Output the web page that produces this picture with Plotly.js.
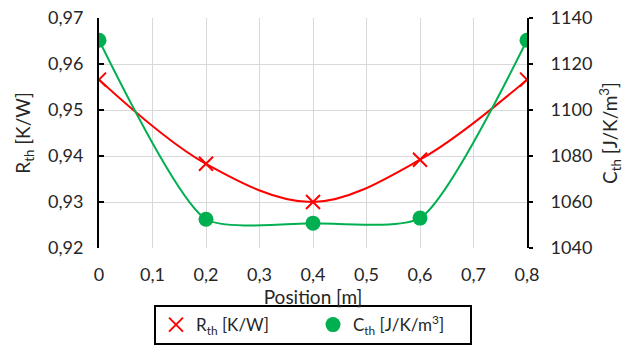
<!DOCTYPE html>
<html><head><meta charset="utf-8">
<script src="https://cdn.plot.ly/plotly-3.0.1.min.js"></script>
<style>body{margin:0;background:#fff}#c{width:629px;height:345px}</style>
</head><body><div id="c"></div>
<script>
const positions = [0, 0.2, 0.4, 0.6, 0.8];
const rth = [0.9566, 0.9383, 0.9300, 0.9392, 0.9566];
const cth = [1130.3, 1052.5, 1050.8, 1053.0, 1130.3];
const rName = 'R<sub>th</sub> [K/W]';
const cName = 'C<sub>th</sub> [J/K/m<sup>3</sup>]';

const font = {family: 'Lato, "Open Sans", sans-serif', size: 18, color: '#262626'};
const titleFont = {family: 'Lato, "Open Sans", sans-serif', size: 19, color: '#262626'};
const legendFont = {family: 'Lato, "Open Sans", sans-serif', size: 17, color: '#262626'};
const traces = [
  {x: positions, y: rth, type: 'scatter', mode: 'lines', showlegend: false, hoverinfo: 'skip',
   line: {color: '#ff0000', width: 2, shape: 'spline', smoothing: 1}, yaxis: 'y'},
  {x: positions, y: cth, type: 'scatter', mode: 'lines', showlegend: false, hoverinfo: 'skip',
   line: {color: '#00b050', width: 2, shape: 'spline', smoothing: 0.6}, yaxis: 'y2'},
  {x: positions, y: rth, name: rName, type: 'scatter', mode: 'markers',
   marker: {symbol: 'x-thin', size: 14, color: '#ff0000', line: {color: '#ff0000', width: 2}},
   yaxis: 'y'},
  {x: positions, y: cth, name: cName, type: 'scatter', mode: 'markers',
   marker: {symbol: 'circle', size: 15, color: '#00b050'},
   yaxis: 'y2'}
];
const layout = {
  width: 629, height: 345,
  margin: {l: 99, r: 102, t: 18, b: 97, autoexpand: false},
  separators: ', ',
  font: font,
  paper_bgcolor: '#fff', plot_bgcolor: '#fff',
  showlegend: true,
  legend: {orientation: 'h', x: 0.5, xanchor: 'center', y: -0.248, yanchor: 'top',
           bordercolor: '#000', borderwidth: 2, font: legendFont, itemwidth: 30,
           entrywidth: 112, entrywidthmode: 'pixels', tracegroupgap: 0},
  xaxis: {range: [0, 0.8], dtick: 0.1, tick0: 0, showgrid: true, gridcolor: '#d9d9d9', gridwidth: 1,
          zeroline: false, showline: false, ticks: '', tickformat: '.1~f', automargin: true,
          ticklabelstandoff: 14,
          tickfont: font, title: {text: 'Position [m]', font: titleFont, standoff: 1}},
  yaxis: {range: [0.92, 0.97], dtick: 0.01, showgrid: true, gridcolor: '#d9d9d9', gridwidth: 1,
          zeroline: false, showline: true, linecolor: '#000', linewidth: 2, automargin: true,
          ticks: 'inside', ticklen: 5, tickcolor: '#000', tickwidth: 2, tickformat: '.2f',
          ticklabelstandoff: 10,
          tickfont: font, title: {text: 'R<sub>th</sub> [K/W]', font: titleFont, standoff: 12}},
  yaxis2: {range: [1040, 1140], dtick: 20, overlaying: 'y', side: 'right', showgrid: false,
          zeroline: false, showline: true, linecolor: '#000', linewidth: 2, automargin: true,
          ticks: 'outside', ticklen: 4, tickcolor: '#000', tickwidth: 2,
          ticklabelstandoff: 14,
          tickfont: font, title: {text: 'C<sub>th</sub> [J/K/m<sup>3</sup>]', font: titleFont, standoff: 12}}
};
Plotly.newPlot('c', traces, layout, {displayModeBar: false, staticPlot: true});
</script></body></html>
